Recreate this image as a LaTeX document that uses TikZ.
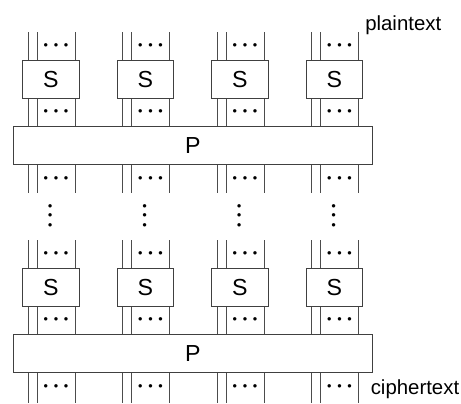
\documentclass[tikz,border=0pt]{standalone}
\usepackage{fontspec}
\setmainfont{Liberation Sans}
\usetikzlibrary{positioning, calc}

\newcommand\dotrun[1]{{\fontsize{9}{11}\selectfont •\kern#1•\kern#1•}}

\begin{document}
\begin{tikzpicture}[
  x=0.025cm, y=-0.025cm,
  every node/.style={font=\fontsize{14.5}{17}\selectfont},
  sbox/.style  = {draw=black!75, fill=white, line width=0.6pt, minimum width=1.4125cm, minimum height=0.95cm, inner sep=0pt, font=\fontsize{16.5}{19}\selectfont},
  pbox/.style  = {sbox, minimum width=8.975cm},
  wire/.style  = {draw=black!70, line width=0.6pt},
  dotrow/.style= {inner sep=0pt},
  dotcol/.style= {inner sep=0pt, rotate=90},
  tag/.style   = {anchor=base west, inner sep=0pt},
]
  \useasboundingbox (0,0) rectangle (461,403);
  % two rounds: S boxes over a P box, wires run through
  \foreach \r/\dy/\yend in {1/0/193.3, 2/208/403} {
    \node[pbox] (p\r) at (192.8, 145.7+\dy) {P};
    \coordinate (e\r) at (0, \yend);
    \foreach \c in {1,...,4} {
      \pgfmathsetmacro\xo{28+94.5*(\c-1)}
      \node[sbox] (s\r\c) at (\xo+22.75, 79.3+\dy) {S};
      \foreach \k in {0, 9, 47}
        \draw[wire] (\xo+\k, 32.3+\dy) coordinate (w) -- (w |- s\r\c.north)
                    (w |- s\r\c.south) -- (w |- p\r.north)
                    (w |- p\r.south) -- (w |- e\r);
      \node[dotrow] (a\r\c) at (\xo+28, 46.3+\dy)  {\dotrun{4pt}};
      \node[dotrow] (b\r\c) at (\xo+28, 112.5+\dy) {\dotrun{4pt}};
      \node[dotrow] (c\r\c) at (\xo+28, 179.2+\dy) {\dotrun{4pt}};
    }
  }
  \foreach \c in {1,...,4}
    \node[dotcol] (v\c) at (28+94.5*\c-94.5+23.5, 215.7) {\dotrun{3.5pt}};

  \node[tag] (pt) at (365, 30)    {plaintext};
  \node[tag] (ct) at (370.5, 394.3) {ciphertext};
\end{tikzpicture}
\end{document}
